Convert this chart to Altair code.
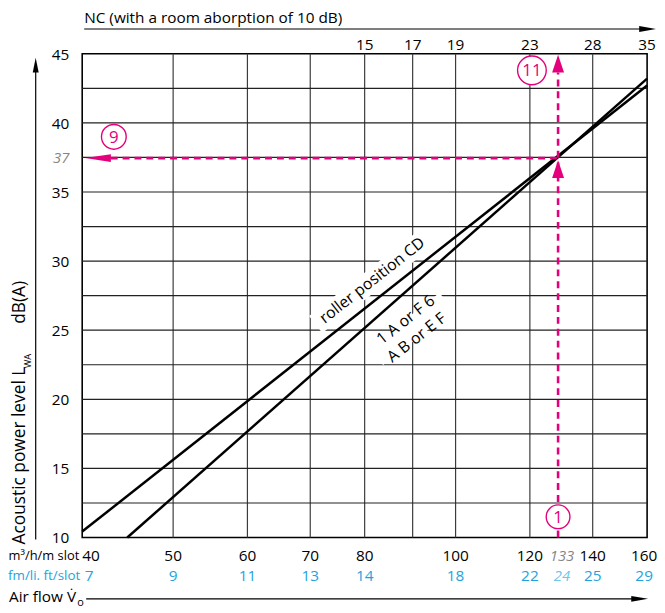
import altair as alt
import pandas as pd

# ---------------- data ----------------
x_grid = [50, 60, 70, 80, 90, 100, 120, 140]
y_grid = [12.5, 15, 17.5, 20, 22.5, 25, 27.5, 30, 32.5, 35, 37.5, 40, 42.5]
y_ticks = [10, 15, 20, 25, 30, 35, 40, 45]

flow_m3 = [50, 60, 70, 80, 100, 120, 140]
flow_cfm = [9, 11, 13, 14, 18, 22, 25]
first_m3, first_cfm = 40, 7
last_m3, last_cfm = 160, 29

nc_flow = [80, 90, 100, 120, 140, 160]
nc_vals = [15, 17, 19, 23, 28, 35]

# characteristic lines (air flow m3/h/m, dB(A))
cd_x = [40, 160]
cd_y = [10.43, 42.7]
ab_x = [44.68, 160]
ab_y = [10.0, 43.2]

# reading example (position as drawn, labels as printed)
read_flow = 128.6
read_level = 37.45
read_flow_label = "133"
read_cfm_label = "24"
read_level_label = "37"

PINK = "#e4007c"
BLUE = "#1ea3dd"
LBLUE = "#6cc5ec"
GREY = "#858585"
FONT = "Open Sans"

xs = alt.Scale(type="log", domain=[40, 160], nice=False)
ys = alt.Scale(domain=[10, 45], nice=False, zero=False)


def X(f="x"):
    return alt.X(f"{f}:Q", scale=xs, axis=None)


def Y(f="y"):
    return alt.Y(f"{f}:Q", scale=ys, axis=None)


one = pd.DataFrame({"a": [0]})

# ---------------- grid ----------------
vgrid = alt.Chart(pd.DataFrame({"x": x_grid})).mark_rule(
    color="#3c3c3c", strokeWidth=1.2).encode(x=X())
hgrid = alt.Chart(pd.DataFrame({"y": y_grid})).mark_rule(
    color="#222222", strokeWidth=1.2).encode(y=Y())

# ---------------- line labels (knock-out boxes + text) ----------------
lab_cd = pd.DataFrame({"x": [81.5], "y": [28.6], "t": ["roller position CD"]})
lab_ab = pd.DataFrame({"x": [88.5, 90.9], "y": [25.74, 24.46],
                       "t": ["1 A or F 6", "A B or E F"]})
box_cd = alt.Chart(lab_cd).mark_point(
    shape="M-1,-0.15L1,-0.15L1,0.15L-1,0.15Z", size=21025, angle=322,
    filled=True, color="white", opacity=1).encode(x=X(), y=Y())
box_ab = alt.Chart(pd.DataFrame({"x": [89.7], "y": [25.1]})).mark_point(
    shape="M-1,-0.25L1,-0.25L1,0.25L-1,0.25Z", size=8100, angle=322,
    filled=True, color="white", opacity=1).encode(x=X(), y=Y())


def label_text(df, ang):
    return alt.Chart(df).mark_text(angle=ang, fontSize=16, font=FONT, color="black").encode(
        x=X(), y=Y(), text="t:N")


t1 = label_text(lab_cd, 322)
t2 = label_text(lab_ab, 322)

# ---------------- characteristic lines ----------------
lines_df = pd.DataFrame({
    "x": cd_x + ab_x,
    "y": cd_y + ab_y,
    "s": ["CD", "CD", "AB", "AB"],
})
lines = alt.Chart(lines_df).mark_line(color="black", strokeWidth=2.5).encode(
    x=X(), y=Y(), detail="s:N")

# ---------------- pink reading example ----------------
hdash = alt.Chart(pd.DataFrame({"x": [42.9], "x2": [read_flow], "y": [read_level]})).mark_rule(
    color=PINK, strokeWidth=2.6, strokeDash=[7, 5]).encode(
    x=X(), x2="x2:Q", y=Y())
vdash = alt.Chart(pd.DataFrame({"x": [read_flow], "y": [10.0], "y2": [43.64]})).mark_rule(
    color=PINK, strokeWidth=2.6, strokeDash=[7, 5]).encode(
    x=X(), y=Y(), y2="y2:Q")

UP = "M0,-1L0.667,1L-0.667,1Z"
LEFT = "M-1,0L1,-0.3L1,0.3Z"
up_arrows = alt.Chart(pd.DataFrame({"x": [read_flow, read_flow], "y": [44.28, 36.65]})).mark_point(
    shape=UP, size=324, filled=True, color=PINK, opacity=1).encode(x=X(), y=Y())
left_arrow = alt.Chart(pd.DataFrame({"x": [41.58], "y": [read_level]})).mark_point(
    shape=LEFT, size=676, filled=True, color=PINK, opacity=1).encode(x=X(), y=Y())

circ_df = pd.DataFrame({
    "x": [43.23, 120.6, read_flow],
    "y": [38.99, 43.8, 11.5],
    "n": ["9", "11", "1"],
    "sz": [625, 841, 576],
})
circles = alt.Chart(circ_df).mark_point(
    shape="circle", filled=True, fill="white", stroke=PINK, strokeWidth=1.4, opacity=1).encode(
    x=X(), y=Y(), size=alt.Size("sz:Q", scale=None))
circ_txt = alt.Chart(circ_df).mark_text(font=FONT, fontSize=17, color=PINK, baseline="middle",
                                        dy=1).encode(x=X(), y=Y(), text="n:N")

# ---------------- left axis ----------------
ytick_lab = alt.Chart(pd.DataFrame({"y": y_ticks})).mark_text(
    font=FONT, fontSize=15.5, align="right", baseline="middle", color="black", dy=1).encode(
    x=alt.value(-13), y=Y(), text="y:Q")
ylev_lab = alt.Chart(pd.DataFrame({"y": [read_level], "t": [read_level_label]})).mark_text(
    font=FONT, fontSize=15, align="right", baseline="middle", color=GREY, fontStyle="italic").encode(
    x=alt.value(-13), y=Y(), text="t:N")

yaxis_line = alt.Chart(one).mark_rule(color="black", strokeWidth=1.2).encode(
    x=alt.value(-47), y=alt.value(491), y2=alt.value(18))
yaxis_head = alt.Chart(one).mark_point(shape="M0,-1L0.4,1L-0.4,1Z", size=225, filled=True,
                                       color="black", opacity=1).encode(
    x=alt.value(-47), y=alt.value(11.5))

ytitle1 = alt.Chart(one).mark_text(text="Acoustic power level L", font=FONT, fontSize=17.5,
                                   angle=270, align="left", baseline="middle", color="black").encode(
    x=alt.value(-63), y=alt.value(496))
ytitle2 = alt.Chart(one).mark_text(text="WA", font=FONT, fontSize=9.5, angle=270, align="left",
                                   baseline="middle", color="black").encode(
    x=alt.value(-55), y=alt.value(318))
ytitle3 = alt.Chart(one).mark_text(text="dB(A)", font=FONT, fontSize=17.5, angle=270, align="left",
                                   baseline="middle", color="black").encode(
    x=alt.value(-63), y=alt.value(273))

# ---------------- top NC axis ----------------
nc_title = alt.Chart(one).mark_text(text="NC (with a room aborption of 10 dB)", font=FONT,
                                    fontSize=15.5, align="left", baseline="middle", color="black").encode(
    x=alt.value(2), y=alt.value(-36))
nc_line = alt.Chart(one).mark_rule(color="black", strokeWidth=1.2).encode(
    x=alt.value(2), x2=alt.value(566), y=alt.value(-25))
nc_head = alt.Chart(one).mark_point(shape="M1,0L-1,-0.35L-1,0.35Z", size=289, filled=True,
                                    color="black", opacity=1).encode(
    x=alt.value(571.5), y=alt.value(-25))
nc_lab = alt.Chart(pd.DataFrame({"x": nc_flow, "t": nc_vals})).mark_text(
    font=FONT, fontSize=15.5, baseline="middle", color="black").encode(
    x=X(), y=alt.value(-9), text="t:Q")

# ---------------- bottom axis ----------------
R1, R2 = 508, 528
row1_unit = alt.Chart(one).mark_text(text="m³/h/m slot", font=FONT, fontSize=13, align="right",
                                     baseline="middle", color="black").encode(
    x=alt.value(-3), y=alt.value(R1))
row2_unit = alt.Chart(one).mark_text(text="cfm/li. ft/slot", font=FONT, fontSize=13.5, align="right",
                                     baseline="middle", color=BLUE).encode(
    x=alt.value(-2), y=alt.value(R2))

row1_first = alt.Chart(pd.DataFrame({"x": [first_m3]})).mark_text(
    font=FONT, fontSize=15.5, align="left", baseline="middle", color="black").encode(
    x=X(), y=alt.value(R1), text="x:Q")
row1_mid = alt.Chart(pd.DataFrame({"x": flow_m3})).mark_text(
    font=FONT, fontSize=15.5, baseline="middle", color="black").encode(
    x=X(), y=alt.value(R1), text="x:Q")
row1_last = alt.Chart(pd.DataFrame({"x": [last_m3]})).mark_text(
    font=FONT, fontSize=15.5, baseline="middle", color="black", dx=-3).encode(
    x=X(), y=alt.value(R1), text="x:Q")

row2_first = alt.Chart(pd.DataFrame({"x": [first_m3], "t": [first_cfm]})).mark_text(
    font=FONT, fontSize=15.5, baseline="middle", color=BLUE, dx=7).encode(
    x=X(), y=alt.value(R2), text="t:Q")
row2_mid = alt.Chart(pd.DataFrame({"x": flow_m3, "t": flow_cfm})).mark_text(
    font=FONT, fontSize=15.5, baseline="middle", color=BLUE).encode(
    x=X(), y=alt.value(R2), text="t:Q")
row2_last = alt.Chart(pd.DataFrame({"x": [last_m3], "t": [last_cfm]})).mark_text(
    font=FONT, fontSize=15.5, baseline="middle", color=BLUE, dx=-3).encode(
    x=X(), y=alt.value(R2), text="t:Q")

read_lab1 = alt.Chart(pd.DataFrame({"x": [read_flow], "t": [read_flow_label]})).mark_text(
    font=FONT, fontSize=15, baseline="middle", color=GREY, fontStyle="italic", dx=4).encode(
    x=X(), y=alt.value(R1), text="t:N")
read_lab2 = alt.Chart(pd.DataFrame({"x": [read_flow], "t": [read_cfm_label]})).mark_text(
    font=FONT, fontSize=15, baseline="middle", color=LBLUE, fontStyle="italic", dx=4).encode(
    x=X(), y=alt.value(R2), text="t:N")

af_text = alt.Chart(one).mark_text(text="Air flow V\u0307", font=FONT, fontSize=15.5, align="left",
                                   baseline="middle", color="black").encode(
    x=alt.value(-74), y=alt.value(549))
af_sub = alt.Chart(one).mark_text(text="o", font=FONT, fontSize=11, align="left",
                                  baseline="middle", color="black").encode(
    x=alt.value(-5), y=alt.value(555))
af_line = alt.Chart(one).mark_rule(color="black", strokeWidth=1.2).encode(
    x=alt.value(4), x2=alt.value(558), y=alt.value(551))
af_head = alt.Chart(one).mark_point(shape="M1,0L-1,-0.35L-1,0.35Z", size=289, filled=True,
                                    color="black", opacity=1).encode(
    x=alt.value(563.5), y=alt.value(551))

chart = alt.layer(
    vgrid, hgrid, box_cd, box_ab, lines, t1, t2,
    hdash, vdash, up_arrows, left_arrow, circles, circ_txt,
    ytick_lab, ylev_lab, yaxis_line, yaxis_head, ytitle1, ytitle2, ytitle3,
    nc_title, nc_line, nc_head, nc_lab,
    row1_unit, row2_unit, row1_first, row1_mid, row1_last,
    row2_first, row2_mid, row2_last, read_lab1, read_lab2,
    af_text, af_sub, af_line, af_head,
).properties(
    width=571, height=489,
    padding={"left": 75, "top": 43, "right": 10, "bottom": 70},
    autosize=alt.AutoSizeParams(type="none"),
).configure_view(stroke="black", strokeWidth=1.6)

chart.save("out.html", embed_options={"renderer": "svg", "actions": False})
